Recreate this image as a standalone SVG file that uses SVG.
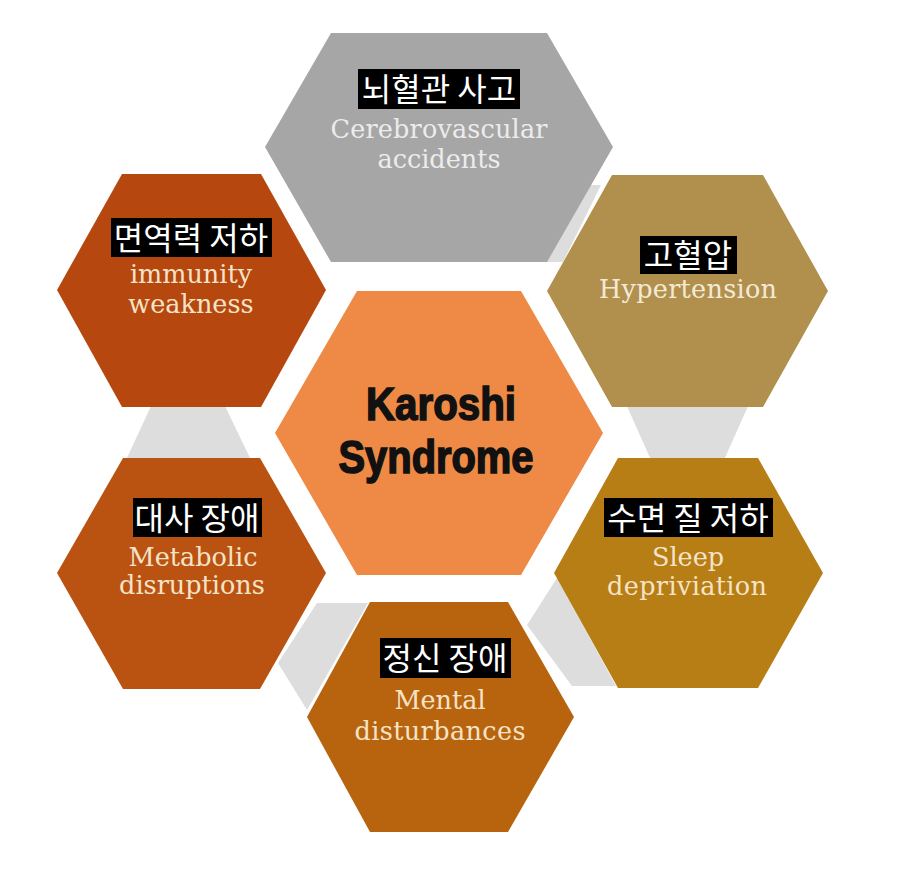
<svg xmlns="http://www.w3.org/2000/svg" width="900" height="884" viewBox="0 0 900 884">
<style>
.ko{font-family:"Noto Sans CJK KR","Noto Sans CJK SC",sans-serif;font-size:32px;fill:#ffffff;text-anchor:middle}
.box{fill:#000000}
.en{font-family:"DejaVu Serif","Liberation Serif",serif;font-size:25.5px;fill:#f5e3c8;text-anchor:middle}
.link{fill:#dddddd}
.ttl{font-family:"Liberation Sans",Arial,sans-serif;font-weight:bold;font-size:46px;fill:#111111;stroke:#111111;stroke-width:1.6;text-anchor:middle}
</style>
<rect width="900" height="884" fill="#ffffff"/>
<g id="connectors">
<polygon class="link" points="585,185 601,185 563,262 545,262"/>
<polygon class="link" points="626,404 749,404 724,460 651,460"/>
<polygon class="link" points="152,404 224,404 251,460 126,460"/>
<polygon class="link" points="317,603 368,603 307,710 278,663"/>
<polygon class="link" points="557,578 527,625 572,686 616,686"/>
</g>
<g id="node-cerebro">
<polygon points="265,147 331,33 547,33 613,147 547,262 331,262" fill="#a6a6a6"/>
<rect class="box" x="358" y="69" width="162" height="40"/>
<text class="ko" x="439" y="101">뇌혈관 사고</text>
<text class="en" x="439" y="138" style="fill:#ececec" textLength="217">Cerebrovascular</text>
<text class="en" x="439" y="168" style="fill:#ececec">accidents</text>
</g>
<g id="node-immunity">
<polygon points="57,290 122,174 261,174 326,290 261,407 122,407" fill="#b5470f"/>
<rect class="box" x="111" y="218" width="161" height="39"/>
<text class="ko" x="191" y="250">면역력 저하</text>
<text class="en" x="191" y="283">immunity</text>
<text class="en" x="191" y="313">weakness</text>
</g>
<g id="node-hypertension">
<polygon points="547,291 612,175 763,175 828,291 763,407 612,407" fill="#b1904e"/>
<rect class="box" x="640" y="236" width="97" height="38"/>
<text class="ko" x="688" y="267">고혈압</text>
<text class="en" x="688" y="298" textLength="178" style="fill:#f3ead6">Hypertension</text>
</g>
<g id="node-karoshi">
<polygon points="275,433 357,291 521,291 603,433 521,575 357,575" fill="#ee8a45"/>
<text class="ttl" x="441" y="420" textLength="150" lengthAdjust="spacingAndGlyphs">Karoshi</text>
<text class="ttl" x="436" y="473" textLength="195" lengthAdjust="spacingAndGlyphs">Syndrome</text>
</g>
<g id="node-metabolic">
<polygon points="57,573 123,458 260,458 326,573 260,689 123,689" fill="#ba5312"/>
<rect class="box" x="133" y="498" width="129" height="39"/>
<text class="ko" x="197" y="530">대사 장애</text>
<text class="en" x="193" y="566">Metabolic</text>
<text class="en" x="192" y="594">disruptions</text>
</g>
<g id="node-sleep">
<polygon points="554,573 618,458 758,458 823,573 758,688 618,688" fill="#b67e14"/>
<rect class="box" x="604" y="498" width="169" height="39"/>
<text class="ko" x="688" y="530">수면 질 저하</text>
<text class="en" x="688" y="566">Sleep</text>
<text class="en" x="687" y="595" textLength="160">depriviation</text>
</g>
<g id="node-mental">
<polygon points="307,717 370,602 508,602 574,717 508,832 370,832" fill="#b8640f"/>
<rect class="box" x="380" y="638" width="131" height="40"/>
<text class="ko" x="445" y="670">정신 장애</text>
<text class="en" x="440" y="709">Mental</text>
<text class="en" x="440" y="740" textLength="171">disturbances</text>
</g>
</svg>
